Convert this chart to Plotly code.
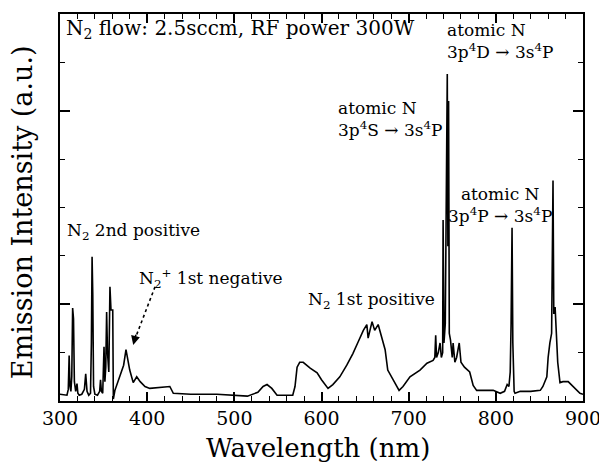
import plotly.graph_objects as go

# Spectrum
wavelength_nm = [300, 308, 309.5, 310.5, 311.5, 312.5, 313.5, 314.5, 315.5, 316.5, 318, 319.5, 320.5, 322,
                 325, 328, 329.5, 331, 333, 335, 336, 336.8, 337.6, 338.5, 340, 343, 345.5, 346.5, 347.5,
                 349, 350.5, 351.5, 352.5, 353.5, 354.5, 356, 357.3, 358.5, 360.5, 361.2, 363, 367, 371,
                 373, 375.7, 378, 380, 384, 388, 392, 397.5, 403, 412, 420, 426, 430, 450, 480, 498, 515,
                 527, 533, 537.5, 543, 549, 556, 567, 569.6, 572, 575, 579, 587, 595, 600, 607.5, 613, 621,
                 629, 636, 642, 648, 652, 653.5, 658, 661, 665, 669, 673, 676, 681, 686, 689, 693.5, 701.5,
                 713, 721, 728, 730, 731, 732, 734, 736, 737.5, 739, 739.5, 740.5, 742, 743.5, 744.3, 745,
                 745.8, 746.6, 748, 750, 751, 753, 755, 758, 760, 764, 770, 774, 778, 790, 797, 805, 810,
                 813, 815, 816.5, 817.5, 818.6, 819.5, 821, 822, 828, 840, 851, 854, 858.5, 860, 862, 864,
                 865.6, 866.5, 868, 869.5, 871, 873.6, 877, 883, 888.5, 896.5, 900]
intensity_au = [0.07, 0.06, 0.12, 0.47, 0.15, 0.10, 0.25, 0.96, 0.85, 0.20, 0.10, 0.18, 0.08, 0.06,
                0.07, 0.12, 0.28, 0.10, 0.06, 0.08, 0.60, 1.49, 1.10, 0.15, 0.07, 0.06, 0.10, 0.22, 0.10,
                0.08, 0.56, 0.20, 0.35, 0.92, 0.50, 0.30, 1.18, 0.94, 0.94, 0.02, 0.11, 0.22, 0.34,
                0.37, 0.53, 0.39, 0.32, 0.19, 0.25, 0.20, 0.15, 0.13, 0.14, 0.15, 0.15, 0.08, 0.07, 0.07, 0.06, 0.05,
                0.09, 0.15, 0.17, 0.13, 0.06, 0.06, 0.06, 0.15, 0.35, 0.40, 0.40, 0.34, 0.29, 0.22, 0.13, 0.17, 0.25,
                0.37, 0.49, 0.61, 0.73, 0.79, 0.65, 0.82, 0.73, 0.79, 0.66, 0.53, 0.32, 0.24, 0.15, 0.11, 0.15, 0.25,
                0.32, 0.39, 0.42, 0.45, 0.68, 0.45, 0.50, 0.60, 0.45, 0.50, 1.87, 0.60, 0.80, 2.50, 3.38, 1.60,
                3.10, 0.70, 0.63, 0.45, 0.60, 0.40, 0.45, 0.60, 0.40, 0.35, 0.30, 0.16, 0.11, 0.11, 0.11, 0.08, 0.10,
                0.17, 0.15, 0.30, 0.80, 1.79, 0.60, 0.10, 0.08, 0.10, 0.10, 0.11, 0.15, 0.25, 0.45, 0.60, 0.70,
                2.28, 0.90, 0.97, 0.60, 0.40, 0.19, 0.20, 0.20, 0.15, 0.08, 0.07]

x_tick_values = [300, 400, 500, 600, 700, 800, 900]
x_tick_labels = ["300", "400", "500", "600", "700", "800", "900"]

FONT = "DejaVu Serif"

fig = go.Figure()
fig.add_trace(go.Scatter(x=wavelength_nm, y=intensity_au, mode="lines",
                         line=dict(color="black", width=1.6), showlegend=False))

ann_font = dict(family=FONT, size=17, color="black")
annotations = [
    dict(x=0.008, y=1.0, xref="paper", yref="paper", xanchor="left", yanchor="top",
         text="N<sub>2</sub> flow: 2.5sccm, RF power 300W", showarrow=False,
         font=dict(family=FONT, size=20, color="black")),
    dict(x=306, y=1.75, xanchor="left", yanchor="middle", text="N<sub>2</sub> 2nd positive",
         showarrow=False, font=ann_font),
    dict(x=388, y=1.27, xanchor="left", yanchor="middle", text="N<sub>2</sub><sup>+</sup> 1st negative",
         showarrow=False, font=ann_font),
    dict(x=582, y=1.04, xanchor="left", yanchor="middle", text="N<sub>2</sub> 1st positive",
         showarrow=False, font=ann_font),
    dict(x=617, y=2.91, xanchor="left", yanchor="middle", align="left",
         text="atomic N<br>3p<sup>4</sup>S → 3s<sup>4</sup>P", showarrow=False, font=ann_font),
    dict(x=805, y=2.03, xanchor="center", yanchor="middle",
         text="atomic N<br>3p<sup>4</sup>P → 3s<sup>4</sup>P", showarrow=False, font=ann_font),
    dict(x=742, y=3.72, xanchor="left", yanchor="middle", align="left",
         text="atomic N<br>3p<sup>4</sup>D → 3s<sup>4</sup>P", showarrow=False, font=ann_font),
    dict(x=384, y=0.58, ax=387.5, ay=0.70, xref="x", yref="y", axref="x", ayref="y",
         text="", showarrow=True, arrowhead=2, arrowsize=1.2, arrowwidth=1.5, arrowcolor="black",
         standoff=0),
    # axis titles
    dict(x=0, y=0.488, xref="paper", yref="paper", xanchor="center", yanchor="middle",
         xshift=-38, textangle=-90, text="Emission Intensity (a.u.)", showarrow=False,
         font=dict(family=FONT, size=27, color="black")),
    dict(x=0.493, y=-0.121, xref="paper", yref="paper", xanchor="center", yanchor="middle",
         text="Wavelength (nm)", showarrow=False,
         font=dict(family=FONT, size=26, color="black")),
]

fig.add_shape(type="line", x0=409, y0=1.18, x1=386, y1=0.64, xref="x", yref="y",
              line=dict(color="black", width=1.6, dash="dot"))

axis_common = dict(showline=True, linecolor="black", linewidth=2, mirror="allticks",
                   ticks="inside", tickcolor="black", tickwidth=1.5, showgrid=False, zeroline=False,
                   automargin=False)

fig.update_layout(
    width=599, height=456,
    margin=dict(l=52, r=24, t=6, b=63),
    paper_bgcolor="white", plot_bgcolor="white",
    font=dict(family=FONT, color="black"),
    annotations=annotations,
    xaxis=dict(range=[300, 900], tickvals=x_tick_values, ticktext=x_tick_labels, ticklen=9,
               tickfont=dict(family=FONT, size=19), ticklabelstandoff=-1,
               minor=dict(dtick=20, ticklen=5, ticks="inside", tickcolor="black", tickwidth=1.2),
               **axis_common),
    yaxis=dict(range=[0, 4], tick0=1, dtick=2, ticklen=10, showticklabels=False,
               minor=dict(dtick=0.5, ticklen=5, ticks="inside", tickcolor="black", tickwidth=1.2),
               **axis_common),
)

fig.write_html("out.html")
